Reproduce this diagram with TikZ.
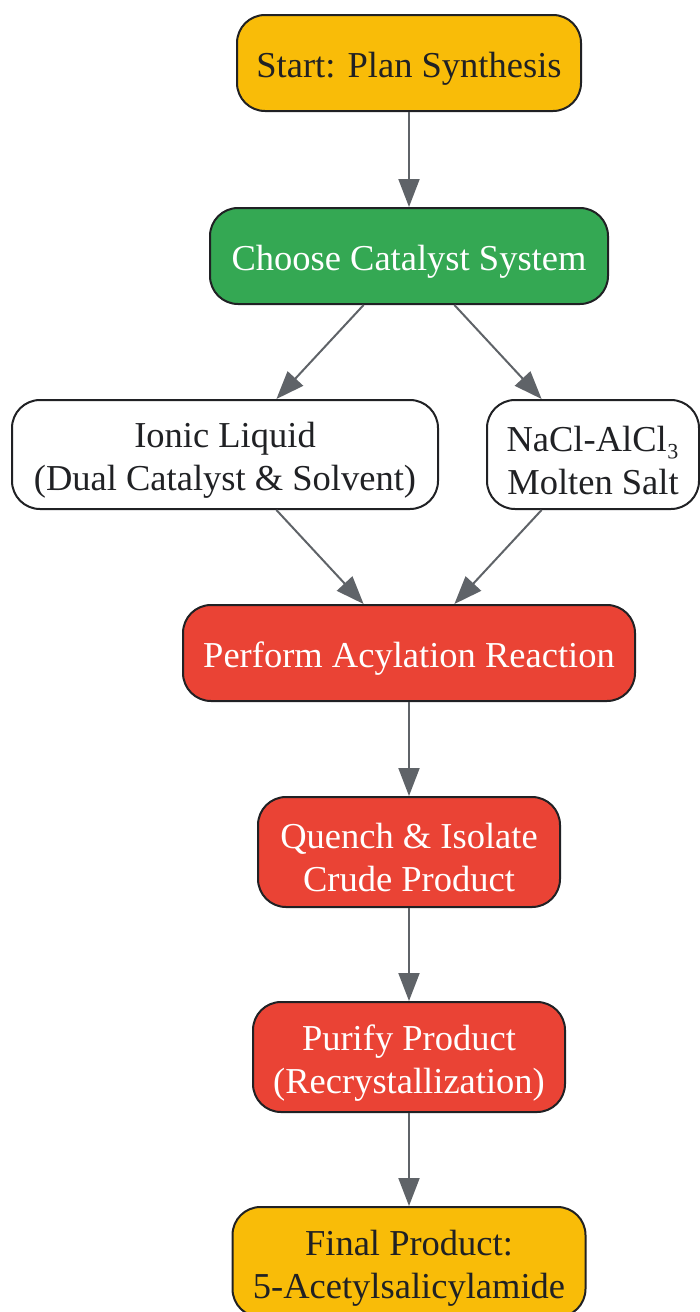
\documentclass[tikz,border=0pt]{standalone}
\usepackage{fontspec}
\setmainfont{Liberation Serif}
\usetikzlibrary{arrows.meta}
\definecolor{cyellow}{HTML}{F9BC08}
\definecolor{cgreen}{HTML}{34A853}
\definecolor{cred}{HTML}{EA4335}
\definecolor{cedge}{HTML}{5F6368}
\definecolor{cdark}{HTML}{202124}
\newcommand{\lowstrut}{\rule{0pt}{37pt}}
\begin{document}
\begin{tikzpicture}[x=1pt,y=-1pt,
  box/.style={draw=cdark, line width=2pt, rounded corners=28pt, align=center, inner sep=0pt,
    font=\fontsize{36.5}{43}\selectfont},
  ybox/.style={box, fill=cyellow, text=cdark},
  gbox/.style={box, fill=cgreen, text=white},
  rbox/.style={box, fill=cred, text=white},
  wbox/.style={box, fill=white, text=cdark},
  arr/.style={draw=cedge, line width=2pt, -{Triangle[length=28pt,width=21pt]}}]
\useasboundingbox (0,0) rectangle (700,1312);
\node[ybox, minimum width=344pt, minimum height=96pt] (start) at (409,63) {\lowstrut Start: Plan Synthesis};
\node[gbox, minimum width=398pt, minimum height=96pt] (choose) at (409,256) {\lowstrut Choose Catalyst System};
\node[wbox, minimum width=426pt, minimum height=109pt] (ionic) at (225,454.5) {\lowstrut Ionic Liquid\\(Dual Catalyst \& Solvent)};
\node[wbox, minimum width=212pt, minimum height=109pt] (nacl) at (593,454.5) {\lowstrut NaCl-AlCl₃\\Molten Salt};
\node[rbox, minimum width=452pt, minimum height=96pt] (perform) at (409,653) {\lowstrut Perform Acylation Reaction};
\node[rbox, minimum width=302pt, minimum height=110pt] (quench) at (409,852) {\lowstrut Quench \& Isolate\\Crude Product};
\node[rbox, minimum width=312pt, minimum height=110pt] (purify) at (409,1057) {\lowstrut Purify Product\\(Recrystallization)};
\node[ybox, minimum width=353pt, minimum height=110pt] (final) at (409,1262) {\lowstrut Final Product:\\5-Acetylsalicylamide};
\draw[arr] (start) -- (choose);
\draw[arr] (choose) -- (ionic);
\draw[arr] (choose) -- (nacl);
\draw[arr] (ionic) -- (perform);
\draw[arr] (nacl) -- (perform);
\draw[arr] (perform) -- (quench);
\draw[arr] (quench) -- (purify);
\draw[arr] (purify) -- (final);
\end{tikzpicture}
\end{document}
